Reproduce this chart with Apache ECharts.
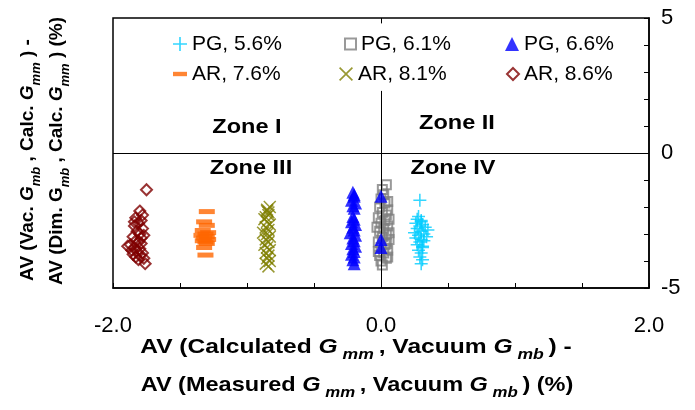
<!DOCTYPE html>
<html><head><meta charset="utf-8">
<script src="https://cdn.jsdelivr.net/npm/echarts@6/dist/echarts.min.js"></script>
<style>html,body{margin:0;padding:0;background:#fff}#c{width:695px;height:410px}</style>
</head><body><div id="c"></div>
<script>
const seriesNames = ['PG, 5.6%', 'PG, 6.1%', 'PG, 6.6%', 'AR, 7.6%', 'AR, 8.1%', 'AR, 8.6%'];
const xTickLabels = ['-2.0', '0.0', '2.0'];
const yTickLabels = ['-5', '0', '5'];
const pg56 = [[0.29,-1.75],[0.28,-2.35],[0.27,-2.45],[0.30,-2.5],[0.30,-2.55],[0.26,-2.6],[0.31,-2.65],[0.29,-2.7],[0.33,-2.75],[0.27,-2.8],[0.35,-2.85],[0.30,-2.9],[0.25,-2.95],[0.32,-3.0],[0.28,-3.05],[0.34,-3.1],[0.26,-3.15],[0.30,-3.2],[0.32,-3.25],[0.29,-3.3],[0.27,-3.4],[0.31,-3.45],[0.31,-3.5],[0.28,-3.6],[0.30,-3.7],[0.29,-3.85],[0.31,-3.95],[0.30,-4.1]];
const pg61 = [[0.04,-1.18],[0.01,-1.35],[0.02,-1.55],[0.00,-1.7],[0.05,-1.8],[0.03,-1.85],[-0.01,-2.0],[0.05,-2.1],[0.01,-2.2],[0.04,-2.3],[-0.02,-2.4],[0.06,-2.45],[0.03,-2.5],[0.00,-2.6],[0.05,-2.7],[-0.03,-2.75],[0.02,-2.8],[-0.01,-2.9],[0.06,-2.95],[0.04,-3.0],[0.01,-3.1],[0.06,-3.2],[-0.02,-3.3],[0.04,-3.35],[0.03,-3.4],[0.00,-3.5],[0.05,-3.6],[-0.02,-3.65],[0.02,-3.7],[-0.01,-3.8],[0.05,-3.85],[0.04,-3.9],[0.00,-4.0],[0.01,-4.15]];
const pg66 = [[-0.21,-1.45],[-0.20,-1.55],[-0.20,-1.6],[-0.22,-1.75],[-0.19,-1.85],[-0.21,-1.95],[-0.20,-2.05],[-0.21,-2.35],[-0.20,-2.45],[-0.22,-2.55],[-0.19,-2.65],[-0.21,-2.75],[-0.20,-2.85],[-0.23,-2.95],[-0.19,-3.05],[-0.21,-3.15],[-0.20,-3.25],[-0.22,-3.35],[-0.19,-3.45],[-0.21,-3.55],[-0.20,-3.65],[-0.22,-3.75],[-0.20,-3.85],[-0.21,-3.95],[-0.20,-4.1],[0.0,-1.6],[0.0,-3.2],[0.0,-3.5]];
const ar76 = [[-1.30,-2.17],[-1.32,-2.55],[-1.30,-2.68],[-1.33,-2.87],[-1.29,-2.95],[-1.31,-3.0],[-1.34,-3.05],[-1.30,-3.1],[-1.32,-3.15],[-1.29,-3.2],[-1.33,-3.25],[-1.31,-3.3],[-1.30,-3.35],[-1.32,-3.5],[-1.31,-3.78]];
const ar81 = [[-0.83,-2.0],[-0.85,-2.1],[-0.85,-2.15],[-0.84,-2.2],[-0.84,-2.3],[-0.86,-2.38],[-0.87,-2.45],[-0.85,-2.55],[-0.83,-2.65],[-0.86,-2.75],[-0.84,-2.85],[-0.88,-2.95],[-0.85,-3.0],[-0.83,-3.1],[-0.86,-3.2],[-0.84,-3.3],[-0.87,-3.4],[-0.85,-3.5],[-0.83,-3.6],[-0.86,-3.7],[-0.84,-3.8],[-0.85,-3.9],[-0.83,-4.0],[-0.86,-4.1],[-0.84,-4.2]];
const ar86 = [[-1.75,-1.36],[-1.80,-2.15],[-1.78,-2.3],[-1.83,-2.4],[-1.79,-2.5],[-1.84,-2.55],[-1.81,-2.6],[-1.84,-2.7],[-1.78,-2.8],[-1.82,-2.9],[-1.80,-3.0],[-1.77,-3.05],[-1.85,-3.1],[-1.79,-3.15],[-1.83,-3.25],[-1.81,-3.3],[-1.79,-3.35],[-1.87,-3.4],[-1.89,-3.45],[-1.84,-3.5],[-1.80,-3.55],[-1.86,-3.6],[-1.82,-3.65],[-1.78,-3.7],[-1.85,-3.75],[-1.80,-3.8],[-1.83,-3.85],[-1.77,-3.9],[-1.81,-3.95],[-1.76,-4.1]];

const FONT = 'Liberation Sans, Arial, sans-serif';
const plusPath = 'path://M5.3,0H6.7V5.3H12V6.7H6.7V12H5.3V6.7H0V5.3H5.3Z';
const xPath = 'path://M0,1L1,0L6,5L11,0L12,1L7,6L12,11L11,12L6,7L1,12L0,11L5,6Z';
const dashPath = 'path://M0,0H16V5H0Z';

const seriesDefs = [
  {name: seriesNames[0], data: pg56, symbol: plusPath, symbolSize: 13, itemStyle: {color: '#00CCFF'}},
  {name: seriesNames[1], data: pg61, symbol: 'rect', symbolSize: 9, itemStyle: {color: 'rgba(0,0,0,0)', borderColor: '#808080', borderWidth: 2}},
  {name: seriesNames[2], data: pg66, symbol: 'triangle', symbolSize: 13, itemStyle: {color: '#0000FF'}},
  {name: seriesNames[3], data: ar76, symbol: dashPath, symbolSize: [16, 5], itemStyle: {color: '#FF6600'}},
  {name: seriesNames[4], data: ar81, symbol: xPath, symbolSize: 13, itemStyle: {color: '#808000'}},
  {name: seriesNames[5], data: ar86, symbol: 'diamond', symbolSize: 11, itemStyle: {color: 'rgba(0,0,0,0)', borderColor: '#800000', borderWidth: 2}}
];

const series = seriesDefs.map((d, i) => Object.assign({type: 'scatter', z: 3 + i, silent: true}, d));
series.push({
  type: 'scatter', data: [], silent: true, z: 1,
  markLine: {
    silent: true, symbol: 'none', animation: false,
    label: {show: false},
    lineStyle: {color: '#000', width: 1, type: 'solid'},
    data: [
      [{coord: [-2, 0]}, {coord: [2, 0]}],
      [{coord: [0, -5]}, {coord: [0, 2.3]}],
      [{coord: [0, 5]}, {coord: [0, 4.8]}]
    ]
  }
});

const legendCfg = [
  {left: 173, top: 32, w: 14, h: 14},
  {left: 344, top: 32, w: 11, h: 11},
  {left: 505, top: 32, w: 14, h: 14},
  {left: 173, top: 62, w: 14, h: 5},
  {left: 339, top: 62, w: 14, h: 14},
  {left: 506, top: 62, w: 12, h: 12}
];
const legends = seriesNames.map((n, i) => ({
  data: [n], left: legendCfg[i].left, top: legendCfg[i].top, padding: 0,
  itemWidth: legendCfg[i].w, itemHeight: legendCfg[i].h, itemGap: 0, selectedMode: false,
  textStyle: {fontFamily: FONT, fontSize: 21, color: '#000', lineHeight: 24}
}));

function mkRich(fs, ss) {
  return {
    n: {fontFamily: FONT, fontSize: fs, fontWeight: 'bold', fill: '#000', color: '#000', lineHeight: 30, verticalAlign: 'middle'},
    g: {fontFamily: FONT, fontSize: fs, fontWeight: 'bold', fontStyle: 'italic', fill: '#000', color: '#000', lineHeight: 30, verticalAlign: 'middle'},
    s: {fontFamily: FONT, fontSize: ss, fontWeight: 'bold', fontStyle: 'italic', fill: '#000', color: '#000', lineHeight: 30, verticalAlign: 'bottom'}
  };
}
function titleText(x, y, text, rot, fs, ss, sx) {
  return {type: 'text', x: x, y: y, rotation: rot || 0, scaleX: sx || 1, silent: true,
    style: {text: text, rich: mkRich(fs, ss), align: 'center', verticalAlign: 'middle', fontFamily: FONT, fontSize: fs, fontWeight: 'bold', fill: '#000'}};
}
function zoneText(x, y, text) {
  return {type: 'text', x: x, y: y, scaleX: 1.12, silent: true,
    style: {text: text, align: 'center', verticalAlign: 'middle', fontFamily: FONT, fontSize: 21, fontWeight: 'bold', fill: '#000'}};
}

const option = {
  animation: false,
  grid: {left: 113, right: 46, top: 18, bottom: 122, show: true, borderColor: '#000', borderWidth: 1.5, backgroundColor: 'transparent'},
  xAxis: {
    type: 'value', min: -2, max: 2, interval: 0.5,
    axisLine: {show: true, onZero: false, lineStyle: {color: '#000', width: 1.5}},
    axisTick: {show: true, inside: true, length: 5, lineStyle: {color: '#000'}},
    axisLabel: {margin: 27, fontFamily: FONT, fontSize: 22, color: '#000',
      formatter: v => { const s = v.toFixed(1); return xTickLabels.includes(s) ? s : ''; }},
    splitLine: {show: false}
  },
  yAxis: {
    type: 'value', position: 'right', min: -5, max: 5, interval: 1,
    axisLine: {show: true, onZero: false, lineStyle: {color: '#000', width: 1.5}},
    axisTick: {show: true, inside: true, length: 5, lineStyle: {color: '#000'}},
    axisLabel: {margin: 12, fontFamily: FONT, fontSize: 22, color: '#000',
      formatter: v => { const s = String(v); return yTickLabels.includes(s) ? s : ''; }},
    splitLine: {show: false}
  },
  legend: legends,
  graphic: [
    zoneText(247, 127, 'Zone I'),
    zoneText(457, 123, 'Zone II'),
    zoneText(251, 168, 'Zone III'),
    zoneText(453, 168, 'Zone IV'),
    titleText(356, 347, '{n|AV (Calculated }{g|G}{s| mm }{n|, Vacuum }{g|G}{s| mb }{n|) -}', 0, 21, 15, 1.17),
    titleText(357, 385, '{n|AV (Measured }{g|G}{s| mm }{n|, Vacuum }{g|G}{s| mb }{n|) (%)}', 0, 21, 15, 1.12),
    titleText(28, 160, '{n|AV (Vac. }{g|G}{s|mb}{n| , Calc. }{g|G}{s|mm}{n| ) -}', Math.PI / 2, 19, 13, 1),
    titleText(57, 151, '{n|AV (Dim. G}{s|mb}{n| , Calc. }{g|G}{s|mm}{n| ) (%)}', Math.PI / 2, 19, 13, 1)
  ],
  series: series
};
const chart = echarts.init(document.getElementById('c'), null, {renderer: 'canvas'});
chart.setOption(option);
</script></body></html>
